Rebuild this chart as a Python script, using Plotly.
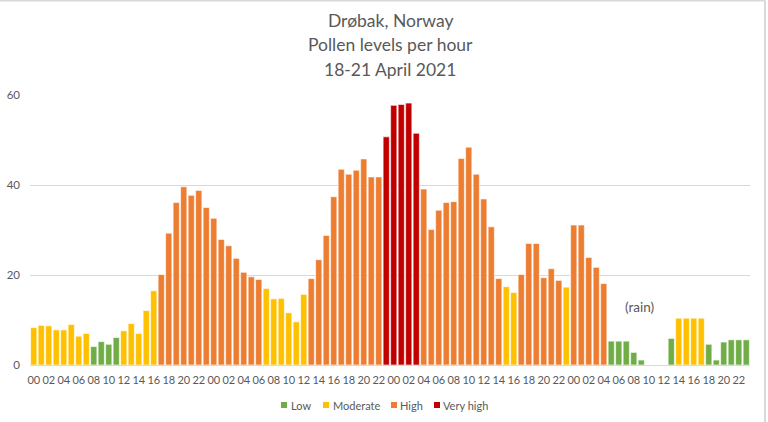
import plotly.graph_objects as go

# Hourly pollen values, 18-21 April 2021 (96 hours; None = no data)
values = [
    8.3, 8.8, 8.7, 7.8, 7.8, 9.0, 6.4, 7.0, 4.1, 5.2, 4.6, 6.1,
    7.6, 9.2, 7.0, 12.1, 16.5, 20.1, 29.3, 36.1, 39.6, 37.7, 38.8, 35.0,
    32.6, 27.9, 26.5, 23.7, 20.6, 19.6, 19.0, 17.0, 14.7, 14.8, 11.6, 9.6,
    15.7, 19.2, 23.4, 28.8, 37.4, 43.5, 42.4, 43.3, 45.8, 41.8, 41.8, 50.7,
    57.7, 57.9, 58.2, 51.5, 39.1, 30.1, 34.4, 36.1, 36.3, 45.9, 48.4, 42.4,
    36.9, 30.7, 19.2, 17.4, 16.1, 20.1, 27.0, 27.0, 19.4, 21.4, 18.8, 17.3,
    31.1, 31.1, 23.9, 21.7, 18.1, 5.3, 5.3, 5.3, 2.8, 1.1, None, None,
    None, 5.9, 10.4, 10.4, 10.4, 10.4, 4.6, 1.1, 5.1, 5.6, 5.6, 5.6,
]
# Level for each hour: L=Low, M=Moderate, H=High, V=Very high, -=none
levels = list(
    "MMMMMMMMLLLL"
    "MMMMMHHHHHHH"
    "HHHHHHHMMMMM"
    "MHHHHHHHHHHV"
    "VVVVHHHHHHHH"
    "HHHMMHHHHHHM"
    "HHHHHLLLLL--"
    "-LMMMMLLLLLL"
)
hour_labels = [f"{h:02d}" for h in range(24)] * 4
series_names = ["Low", "Moderate", "High", "Very high"]
series_codes = ["L", "M", "H", "V"]
series_colors = ["#70AD47", "#FFC000", "#ED7D31", "#C00000"]
title_lines = ["Drøbak, Norway", "Pollen levels per hour", "18-21 April 2021"]
y_ticks = [0, 20, 40, 60]

W, H = 768, 422
L, R, T, B = 30, 18, 95, 57
PW, PH = W - L - R, H - T - B


def px(p):
    return (p - L) / PW


def py(p):
    return (H - B - p) / PH


x = list(range(len(values)))
fig = go.Figure()
for name, code, color in zip(series_names, series_codes, series_colors):
    ys = [v if lv == code else None for v, lv in zip(values, levels)]
    fig.add_trace(go.Bar(
        x=x, y=ys, name=name, showlegend=False,
        marker=dict(color=color, line=dict(color="rgba(255,255,255,0.6)", width=1)),
    ))

tick_vals = [i for i in x if i % 2 == 0]
tick_text = [hour_labels[i] for i in tick_vals]

font_color = "#595959"
annotations = []
for line, yc in zip(title_lines, [20, 44.5, 69]):
    annotations.append(dict(
        x=0.5, y=py(yc), xref="paper", yref="paper", xanchor="center", yanchor="middle",
        text=line, showarrow=False, font=dict(size=17.5, color=font_color),
    ))
annotations.append(dict(
    x=80.8, y=12.8, xref="x", yref="y", text="(rain)", showarrow=False,
    font=dict(size=13.5, color=font_color),
))

shapes = [
    dict(type="line", xref="paper", yref="paper", x0=px(0), x1=px(765),
         y0=py(0.5), y1=py(0.5), line=dict(color="#d9d9d9", width=2)),
    dict(type="line", xref="paper", yref="paper", x0=px(765), x1=px(765),
         y0=py(422), y1=py(0.5), line=dict(color="#d9d9d9", width=2)),
]
# legend built from squares + text
legend_sq = [281, 323, 391, 434]
legend_tx = [289, 331, 398, 441]
for name, color, sq, tx in zip(series_names, series_colors, legend_sq, legend_tx):
    shapes.append(dict(type="rect", xref="paper", yref="paper",
                       x0=px(sq), x1=px(sq + 6), y0=py(402), y1=py(408),
                       fillcolor=color, line=dict(width=0)))
    annotations.append(dict(
        x=px(tx), y=py(405), xref="paper", yref="paper", xanchor="left", yanchor="middle",
        text=name, showarrow=False, font=dict(size=11, color=font_color),
    ))

fig.update_layout(
    width=W, height=H,
    margin=dict(l=L, r=R, t=T, b=B, autoexpand=False),
    paper_bgcolor="white", plot_bgcolor="white",
    barmode="overlay", bargap=0.17,
    font=dict(family="Lato, Open Sans, sans-serif", color=font_color, size=10),
    showlegend=False,
    xaxis=dict(
        range=[-0.5, 95.5], tickmode="array", tickvals=tick_vals, ticktext=tick_text,
        tickangle=0, showgrid=False, showline=True, linecolor="#d9d9d9", linewidth=1,
        ticks="", ticklabelstandoff=5, tickfont=dict(size=11, color=font_color),
        zeroline=False,
    ),
    yaxis=dict(
        range=[0, 60], tickvals=y_ticks, showgrid=True, gridcolor="#d9d9d9",
        gridwidth=1, zeroline=False, ticks="", ticklabelstandoff=9,
        tickfont=dict(size=11.5, color=font_color),
    ),
    annotations=annotations,
    shapes=shapes,
)

fig.write_html("out.html")
